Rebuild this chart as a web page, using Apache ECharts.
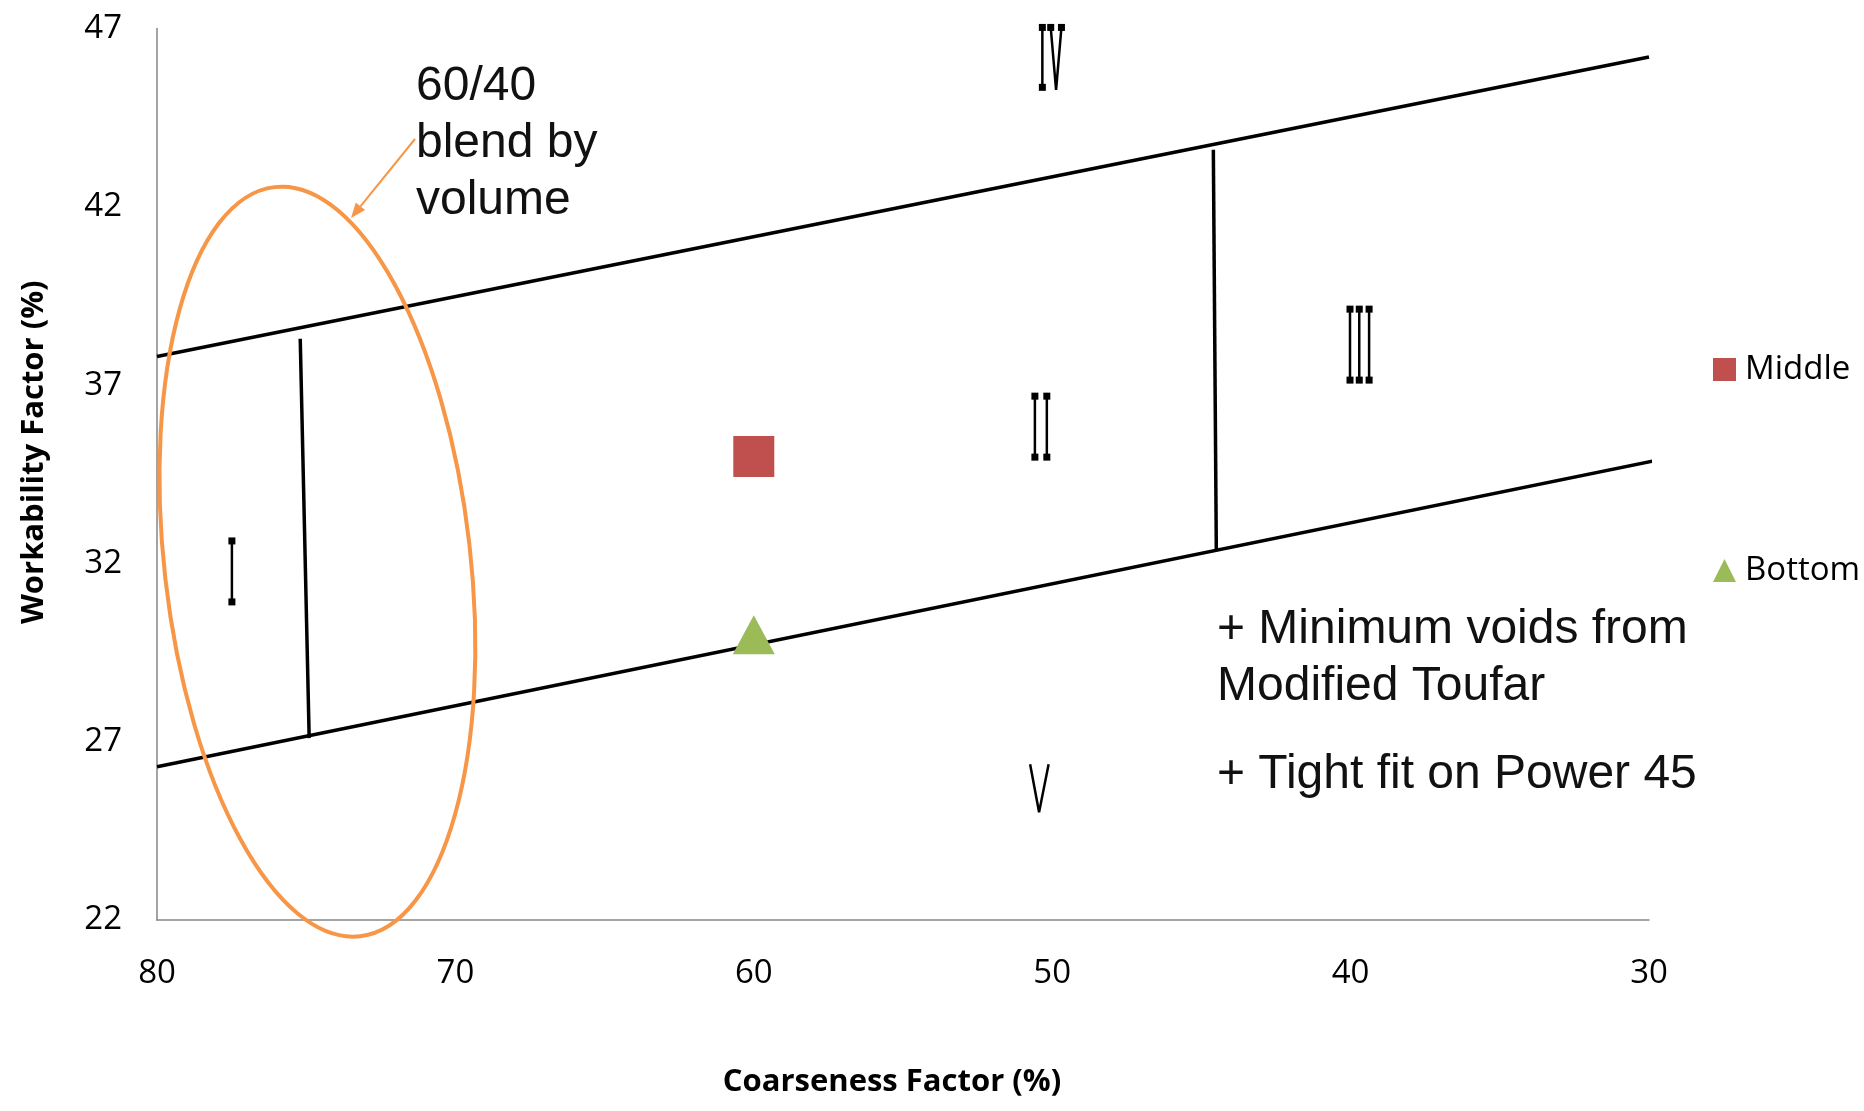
<!DOCTYPE html>
<html><head><meta charset="utf-8">
<script src="https://cdn.jsdelivr.net/npm/echarts@6/dist/echarts.min.js"></script>
<style>html,body{margin:0;padding:0;background:#fff}#c{width:1864px;height:1111px}</style>
</head><body><div id="c"></div>
<script>
// ---- data ----
const xTicks = [80, 70, 60, 50, 40, 30];
const yTicks = [22, 27, 32, 37, 42, 47];
const middlePoints = [[60, 35.0]];
const bottomPoints = [[60, 30.0]];
const upperBand = [[80, 37.8], [30, 46.2]];
const lowerBand = [[80, 26.3], [29.7, 34.9]];
const dividerLeft = [[75.2, 38.3], [74.9, 27.1]];
const dividerRight = [[44.6, 43.6], [44.5, 32.4]];
// zone numeral strokes: [x, yTop, yBottom]
const numeralBars = [
  [77.49, 32.63, 30.92],                                   // I
  [50.58, 36.69, 34.98], [50.18, 36.69, 34.98],            // II
  [40.02, 39.13, 37.14], [39.71, 39.13, 37.14], [39.38, 39.13, 37.14], // III
  [50.33, 47.03, 45.35]                                    // IV (I part)
];
// V strokes: [xLeft, xTip, xRight, yTop, yTip, capped]
const numeralVs = [
  [50.05, 49.87, 49.69, 47.03, 45.28, true],   // IV (V part)
  [50.74, 50.44, 50.12, 26.37, 25.02, false]   // V
];
const annotBlend = '60/40\nblend by\nvolume';
const annotNotes1 = '+ Minimum voids from\nModified Toufar';
const annotNotes2 = '+ Tight fit on Power 45';

// ---- chart ----
const chart = echarts.init(document.getElementById('c'), null, {renderer: 'canvas'});
const black = '#000000';
const lineSeries = (data, extra) => Object.assign({
  type: 'line', data: data, symbol: 'none', silent: true, clip: false,
  lineStyle: {color: black, width: 3.5}, itemStyle: {color: black}, z: 3
}, extra || {});

const series = [
  lineSeries(upperBand, {name: 'upper'}),
  lineSeries(lowerBand, {name: 'lower'}),
  lineSeries(dividerLeft, {name: 'divL'}),
  lineSeries(dividerRight, {name: 'divR'})
];
numeralBars.forEach((b, i) => {
  series.push(lineSeries([[b[0], b[1]], [b[0], b[2]]], {
    name: 'bar' + i, symbol: 'rect', symbolSize: 7, showSymbol: true,
    lineStyle: {color: black, width: 2.5}
  }));
});
numeralVs.forEach((v, i) => {
  const cap = v[5] ? {symbol: 'rect', symbolSize: 7} : {symbol: 'none'};
  series.push(lineSeries([
    Object.assign({value: [v[0], v[3]]}, cap),
    {value: [v[1], v[4]], symbol: 'none'},
    Object.assign({value: [v[2], v[3]]}, cap)
  ], {name: 'v' + i, showSymbol: true, lineStyle: {color: black, width: 2.5}}));
});
series.push({
  name: 'Middle', type: 'scatter', data: middlePoints, symbol: 'rect', symbolSize: 41,
  itemStyle: {color: '#C0504D', opacity: 1}, z: 5
});
series.push({
  name: 'Bottom', type: 'scatter', data: bottomPoints, symbol: 'triangle', symbolSize: [42, 39],
  itemStyle: {color: '#9BBB59', opacity: 1}, z: 5
});

const legendCommon = {
  orient: 'vertical', left: 1713, itemWidth: 23, itemHeight: 23, padding: 0,
  textStyle: {fontFamily: 'Open Sans', fontSize: 33, color: '#000', lineHeight: 33, padding: [0, 0, 0, 4]},
  itemStyle: {opacity: 1},
  selectedMode: false
};

// arrow geometry (annotation)
const aStart = [415, 139], aEnd = [351, 218];
const ang = Math.atan2(aEnd[1] - aStart[1], aEnd[0] - aStart[0]);
const aLen = 15, aHalf = 6;
const base = [aEnd[0] - aLen * Math.cos(ang), aEnd[1] - aLen * Math.sin(ang)];
const head = [
  aEnd,
  [base[0] + aHalf * Math.sin(ang), base[1] - aHalf * Math.cos(ang)],
  [base[0] - aHalf * Math.sin(ang), base[1] + aHalf * Math.cos(ang)]
];

const option = {
  animation: false,
  backgroundColor: '#fff',
  grid: {left: 157, right: 215, top: 28.5, bottom: 191, containLabel: false},
  xAxis: {
    type: 'value', inverse: true, min: 30, max: 80, interval: 10,
    axisLine: {show: true, lineStyle: {color: '#868686', width: 1.5}},
    axisTick: {show: false}, splitLine: {show: false},
    axisLabel: {fontFamily: 'Open Sans', fontSize: 33, color: '#000', margin: 37,
      formatter: v => xTicks.includes(v) ? String(v) : ''},
    name: 'Coarseness Factor (%)', nameLocation: 'middle', nameGap: 147,
    nameTextStyle: {fontFamily: 'Open Sans', fontWeight: 'bold', fontSize: 31, color: '#000',
      padding: [0, 22, 0, 0]}
  },
  yAxis: {
    type: 'value', min: 22, max: 47, interval: 5,
    axisLine: {show: true, lineStyle: {color: '#868686', width: 1.5}},
    axisTick: {show: false}, splitLine: {show: false},
    axisLabel: {fontFamily: 'Open Sans', fontSize: 33, color: '#000', margin: 35,
      formatter: v => yTicks.includes(v) ? String(v) : ''},
    name: 'Workability Factor (%)', nameLocation: 'middle', nameGap: 107,
    nameTextStyle: {fontFamily: 'Open Sans', fontWeight: 'bold', fontSize: 31, color: '#000',
      padding: [0, 0, 0, 44]}
  },
  legend: [
    Object.assign({top: 353, data: [{name: 'Middle', icon: 'rect'}]}, legendCommon),
    Object.assign({top: 554, data: [{name: 'Bottom', icon: 'triangle'}]}, legendCommon)
  ],
  graphic: [
    {type: 'ellipse', x: 317.4, y: 561.7, rotation: 0.1136, silent: true, z: 10,
      shape: {cx: 0, cy: 0, rx: 153, ry: 377},
      style: {fill: 'none', stroke: '#F79646', lineWidth: 4}},
    {type: 'line', silent: true, z: 10,
      shape: {x1: aStart[0], y1: aStart[1], x2: base[0], y2: base[1]},
      style: {stroke: '#F79646', lineWidth: 2}},
    {type: 'polygon', silent: true, z: 10, shape: {points: head}, style: {fill: '#F79646'}},
    {type: 'text', x: 416, y: 58, silent: true, z: 10,
      style: {text: annotBlend, fontFamily: 'Liberation Sans', fontSize: 48, lineHeight: 57,
        fill: '#111', verticalAlign: 'top', align: 'left'}},
    {type: 'text', x: 1217, y: 601.5, silent: true, z: 10,
      style: {text: annotNotes1, fontFamily: 'Liberation Sans', fontSize: 48, lineHeight: 57,
        fill: '#111', verticalAlign: 'top', align: 'left'}},
    {type: 'text', x: 1217, y: 746.5, silent: true, z: 10,
      style: {text: annotNotes2, fontFamily: 'Liberation Sans', fontSize: 48, lineHeight: 57,
        fill: '#111', verticalAlign: 'top', align: 'left'}}
  ],
  series: series
};
chart.setOption(option);
</script>
</body></html>
